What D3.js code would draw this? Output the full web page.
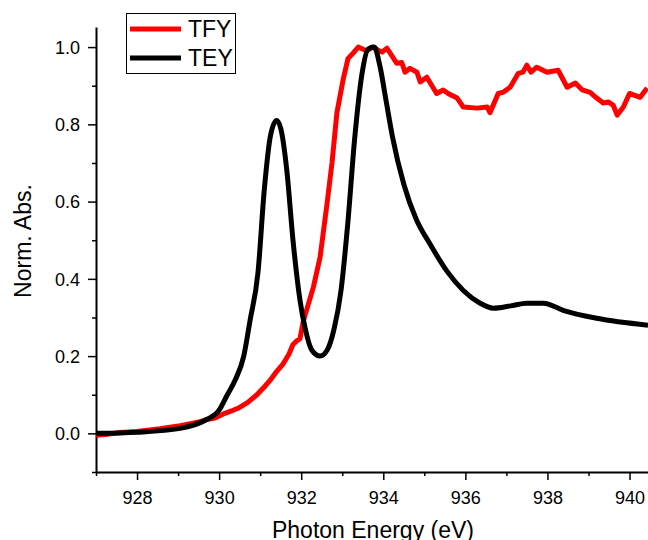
<!DOCTYPE html>
<html>
<head>
<meta charset="utf-8">
<script src="https://cdn.jsdelivr.net/npm/d3@7"></script>
<style>
  body { margin: 0; background: #fff; }
  text { font-family: Arial, "Liberation Sans", sans-serif; }
</style>
</head>
<body>
<div id="chart"></div>
<script>
// TFY (red)
var tfyE = [927.0, 927.3, 927.6, 928.0, 928.3, 928.56, 928.8, 929.05, 929.3, 929.53, 929.7, 929.9, 930.14, 930.3, 930.5, 930.7, 930.92, 931.1, 931.24, 931.4, 931.56, 931.7, 931.8, 931.9, 931.97, 932.05, 932.3, 932.46, 932.63, 932.75, 932.87, 933.02, 933.14, 933.27, 933.39, 933.6, 933.73, 933.97, 934.09, 934.33, 934.45, 934.53, 934.65, 934.82, 934.9, 935.06, 935.3, 935.46, 935.58, 935.8, 935.95, 936.29, 936.53, 936.6, 936.8, 936.92, 937.09, 937.29, 937.4, 937.5, 937.6, 937.74, 937.99, 938.26, 938.48, 938.68, 938.85, 939.04, 939.2, 939.36, 939.48, 939.6, 939.7, 939.85, 940.0, 940.26, 940.43];
var tfyV = [-0.005, -0.002, 0.002, 0.005, 0.009, 0.012, 0.016, 0.02, 0.025, 0.03, 0.036, 0.04, 0.052, 0.058, 0.067, 0.08, 0.10, 0.12, 0.137, 0.16, 0.18, 0.205, 0.23, 0.24, 0.245, 0.29, 0.38, 0.456, 0.595, 0.70, 0.83, 0.915, 0.97, 0.985, 1.0, 0.99, 1.0, 0.987, 0.997, 0.958, 0.96, 0.935, 0.945, 0.935, 0.91, 0.922, 0.88, 0.889, 0.88, 0.868, 0.845, 0.842, 0.845, 0.83, 0.88, 0.883, 0.896, 0.932, 0.935, 0.953, 0.935, 0.948, 0.935, 0.94, 0.896, 0.907, 0.889, 0.883, 0.868, 0.855, 0.858, 0.85, 0.824, 0.845, 0.88, 0.87, 0.894];

// TEY (black)
var teyE = [927.0, 928.0, 929.05, 929.66, 930.0, 930.2, 930.4, 930.6, 930.75, 930.95, 931.1, 931.25, 931.4, 931.5, 931.65, 931.8, 931.97, 932.1, 932.26, 932.46, 932.63, 932.8, 932.97, 933.14, 933.3, 933.48, 933.63, 933.78, 933.92, 934.07, 934.22, 934.5, 934.8, 935.14, 935.55, 935.95, 936.36, 936.68, 937.1, 937.5, 937.9, 938.4, 939.2, 940.45];
var teyV = [0.0, 0.003, 0.013, 0.034, 0.06, 0.10, 0.14, 0.20, 0.29, 0.42, 0.63, 0.77, 0.81, 0.79, 0.68, 0.50, 0.345, 0.27, 0.215, 0.20, 0.215, 0.27, 0.37, 0.55, 0.76, 0.93, 0.995, 1.0, 0.95, 0.86, 0.77, 0.645, 0.555, 0.49, 0.42, 0.37, 0.337, 0.324, 0.33, 0.337, 0.337, 0.318, 0.298, 0.28];

var xMajor = [928, 930, 932, 934, 936, 938, 940];
var xMinor = [927, 929, 931, 933, 935, 937, 939];
var yMajor = [0.0, 0.2, 0.4, 0.6, 0.8, 1.0];
var yMinor = [-0.1, 0.1, 0.3, 0.5, 0.7, 0.9];

var width = 648, height = 540;
var margin = {top: 27, right: 0, bottom: 68, left: 96};

var svg = d3.select("#chart").append("svg")
  .attr("width", width)
  .attr("height", height);

var xScale = d3.scaleLinear().domain([927, 940.45]).range([margin.left, width - margin.right]);
var yScale = d3.scaleLinear().domain([-0.1, 1.052]).range([height - margin.bottom, margin.top]);

var plotBottom = height - margin.bottom;

// clip so lines stay inside the frame
svg.append("clipPath").attr("id", "clip")
  .append("rect")
  .attr("x", margin.left).attr("y", 0)
  .attr("width", width - margin.left).attr("height", plotBottom);

// x axis
var gx = svg.append("g")
  .attr("transform", "translate(0," + plotBottom + ")")
  .call(d3.axisBottom(xScale).tickValues(xMajor).tickFormat(d3.format("d")).tickSize(8).tickSizeOuter(0));
svg.append("g")
  .attr("transform", "translate(0," + plotBottom + ")")
  .call(d3.axisBottom(xScale).tickValues(xMinor).tickFormat("").tickSize(4).tickSizeOuter(0))
  .select(".domain").remove();

// y axis
var gy = svg.append("g")
  .attr("transform", "translate(" + margin.left + ",0)")
  .call(d3.axisLeft(yScale).tickValues(yMajor).tickFormat(d3.format(".1f")).tickSize(8).tickSizeOuter(0));
svg.append("g")
  .attr("transform", "translate(" + margin.left + ",0)")
  .call(d3.axisLeft(yScale).tickValues(yMinor).tickFormat("").tickSize(4).tickSizeOuter(0))
  .select(".domain").remove();

svg.selectAll(".domain").attr("stroke", "#000").attr("stroke-width", 2);
svg.selectAll(".tick line").attr("stroke", "#000").attr("stroke-width", 1.5);
gx.selectAll(".tick text").attr("font-size", 18).attr("dy", "1.15em").attr("fill", "#000");
gy.selectAll(".tick text").attr("font-size", 18).attr("x", -16).attr("dy", "0.35em").attr("fill", "#000");

// axis titles
svg.append("text")
  .attr("x", 373).attr("y", 538)
  .attr("text-anchor", "middle")
  .attr("font-size", 23)
  .text("Photon Energy (eV)");

svg.append("text")
  .attr("transform", "translate(31,241) rotate(-90)")
  .attr("text-anchor", "middle")
  .attr("font-size", 23)
  .text("Norm. Abs.");

// curves
var lineTFY = d3.line()
  .x(function(d, i) { return xScale(tfyE[i]); })
  .y(function(d) { return yScale(d); });

var lineTEY = d3.line()
  .x(function(d, i) { return xScale(teyE[i]); })
  .y(function(d) { return yScale(d); })
  .curve(d3.curveMonotoneX);

svg.append("path")
  .datum(tfyV)
  .attr("clip-path", "url(#clip)")
  .attr("fill", "none")
  .attr("stroke", "#ff0000")
  .attr("stroke-width", 5)
  .attr("stroke-linejoin", "round")
  .attr("d", lineTFY);

svg.append("path")
  .datum(teyV)
  .attr("clip-path", "url(#clip)")
  .attr("fill", "none")
  .attr("stroke", "#000")
  .attr("stroke-width", 5)
  .attr("stroke-linejoin", "round")
  .attr("d", lineTEY);

// legend
var legend = svg.append("g");
legend.append("rect")
  .attr("x", 126.5).attr("y", 13.5)
  .attr("width", 109).attr("height", 60)
  .attr("fill", "#fff")
  .attr("stroke", "#000")
  .attr("stroke-width", 1);

var legendItems = [
  {name: "TFY", color: "#ff0000", y: 29},
  {name: "TEY", color: "#000", y: 58}
];
legend.selectAll(".item")
  .data(legendItems)
  .enter().append("line")
  .attr("x1", 130).attr("x2", 181)
  .attr("y1", function(d) { return d.y; })
  .attr("y2", function(d) { return d.y; })
  .attr("stroke", function(d) { return d.color; })
  .attr("stroke-width", 5);
legend.selectAll(".label")
  .data(legendItems)
  .enter().append("text")
  .attr("x", 188)
  .attr("y", function(d) { return d.y + 8; })
  .attr("font-size", 23)
  .text(function(d) { return d.name; });
</script>
</body>
</html>
